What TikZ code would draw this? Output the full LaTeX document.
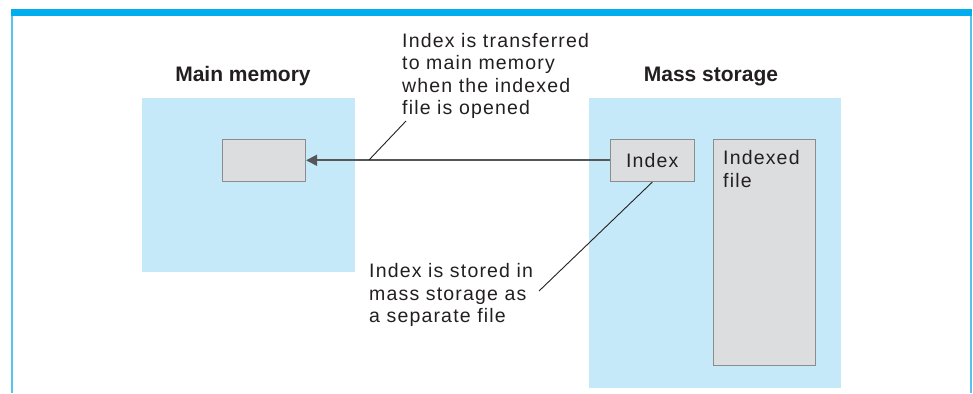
\documentclass[tikz,border=0pt]{standalone}
\usepackage{fontspec}
\setmainfont{Liberation Sans}
\newfontfamily\notefont{Liberation Sans}[LetterSpace=6]
\usetikzlibrary{arrows.meta}
\definecolor{storeblue}{HTML}{C6E9F9}
\definecolor{barblue}{HTML}{00AEEF}
\definecolor{frameblue}{HTML}{55C4F0}
\definecolor{boxfill}{HTML}{DCDDDF}
\definecolor{boxgray}{HTML}{8A8C8E}
\definecolor{arrowgray}{HTML}{555658}
\definecolor{inkgray}{HTML}{231F20}

\begin{document}
\begin{tikzpicture}[
  x=1pt, y=-1pt,
  region/.style={fill=storeblue, anchor=north west, inner sep=0pt},
  box/.style={draw=boxgray, line width=1.6pt, fill=boxfill, anchor=north west, inner sep=0pt},
  note/.style={font=\notefont\fontsize{19.5}{22.5}\selectfont, text=inkgray, align=left, inner sep=0pt, anchor=north west},
  title/.style={font=\bfseries\fontsize{21}{24}\selectfont, text=inkgray, inner sep=0pt, anchor=base},
  leader/.style={draw=inkgray, line width=0.9pt},
  >={Triangle[length=11pt, width=11pt]}
]
\useasboundingbox (0,0) rectangle (973,393);
% frame
\fill[barblue] (11,9.5) rectangle (972,16);
\draw[frameblue, line width=2pt] (12,16) -- (12,393);
\draw[frameblue, line width=2pt] (970.5,16) -- (970.5,393);
% storage areas
\node[region, minimum width=213pt, minimum height=174pt] (mainmem) at (142,98) {};
\node[region, minimum width=252pt, minimum height=290pt] (mass) at (589,98) {};
\node[title] (mmtitle) at (243,81.5) {Main memory};
\node[title] (mstitle) at (711,81.5) {Mass storage};
% boxes
\node[box, minimum width=83pt, minimum height=42pt] (mmbox) at (221.5,138.5) {};
\node[box, minimum width=84pt, minimum height=42pt, font=\notefont\fontsize{19.5}{22.5}\selectfont, text=inkgray] (idx) at (609.5,138.5) {Index};
\node[box, minimum width=102pt, minimum height=226pt] (ifile) at (712.5,138.5) {};
\node[note] (ifiletext) at ([xshift=10.5pt, yshift=-12pt]ifile.north west) {Indexed\\file};
% notes
\node[note] (loadnote) at (402,32.7) {Index is transferred\\to main memory\\when the indexed\\file is opened};
\node[note] (storenote) at (369,263.3) {Index is stored in\\mass storage as\\a separate file};
\coordinate (onarrow) at (369,160);
\coordinate (loadend) at (406,121);
\coordinate (storeend) at (539,291);
% connectors
\draw[->, arrowgray, line width=1.8pt] (idx.west) -- (mmbox.east);
\draw[leader] (onarrow) -- (loadend);
\draw[leader] (idx.south) -- (storeend);
\end{tikzpicture}
\end{document}
